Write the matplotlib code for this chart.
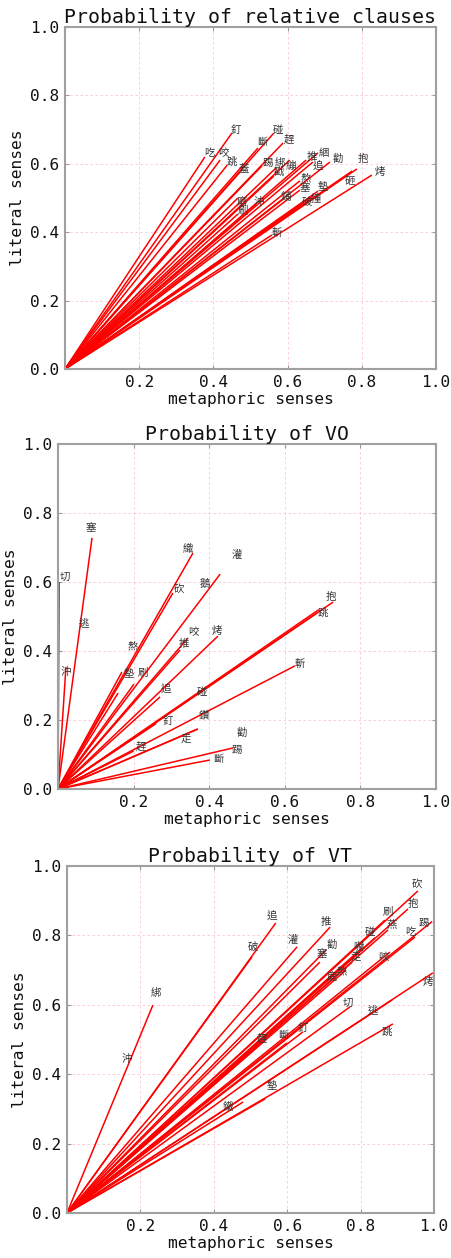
import matplotlib
matplotlib.use("Agg")
import matplotlib.pyplot as plt

# ---------------- data ----------------
# Panel 1: Probability of relative clauses
rc_words = ["釘", "碰", "趕", "斷", "吃", "咬", "跳", "蓋", "踢", "綁", "繃", "戳",
            "推", "勸", "綑", "抱", "追", "烤", "砸", "熬", "塞", "墊", "破", "撞",
            "沖", "鋪", "磨", "刷", "斬"]
rc_meta = [0.450, 0.563, 0.588, 0.520, 0.377, 0.418, 0.437, 0.472, 0.531, 0.569, 0.606, 0.563,
           0.650, 0.714, 0.682, 0.787, 0.668, 0.827, 0.774, 0.633, 0.633, 0.682, 0.639, 0.668,
           0.512, 0.585, 0.466, 0.466, 0.558]
rc_lit = [0.690, 0.690, 0.661, 0.646, 0.620, 0.611, 0.596, 0.576, 0.594, 0.588, 0.611, 0.564,
          0.611, 0.605, 0.632, 0.585, 0.605, 0.567, 0.579, 0.550, 0.523, 0.520, 0.482, 0.506,
          0.480, 0.494, 0.500, 0.453, 0.392]
rc_label_x = [0.461, 0.574, 0.604, 0.531, 0.388, 0.426, 0.450, 0.482, 0.547, 0.580, 0.610, 0.577,
              0.666, 0.736, 0.698, 0.803, 0.682, 0.849, 0.768, 0.650, 0.647, 0.695, 0.652, 0.677,
              0.523, 0.596, 0.477, 0.480, 0.571]
rc_label_y = [0.699, 0.699, 0.670, 0.664, 0.632, 0.632, 0.605, 0.588, 0.602, 0.602, 0.594, 0.576,
              0.620, 0.614, 0.632, 0.614, 0.591, 0.576, 0.553, 0.556, 0.529, 0.532, 0.488, 0.497,
              0.488, 0.503, 0.488, 0.462, 0.398]

# Panel 2: Probability of VO
vo_words = ["塞", "切", "逃", "沖", "織", "灌", "砍", "鵝", "熬", "咬", "推", "烤",
            "墊", "刷", "追", "碰", "釘", "鑽", "走", "趕", "勸", "踢", "斷", "抱",
            "跳", "斬"]
vo_meta = [0.090, 0.003, None, 0.021, 0.357, None, 0.304, 0.429, 0.169, 0.344, 0.323, 0.423,
           0.159, 0.201, 0.270, 0.690, 0.260, 0.370, 0.370, 0.200, None, 0.463, 0.402, 0.728,
           0.685, 0.627]
vo_lit = [0.728, 0.600, None, 0.354, 0.684, None, 0.568, 0.623, 0.339, 0.438, 0.403, 0.443,
          0.278, 0.304, 0.267, 0.520, 0.190, 0.174, 0.174, 0.110, None, 0.119, 0.084, 0.542,
          0.510, 0.357]
vo_label_x = [0.087, 0.019, 0.069, 0.021, 0.344, 0.474, 0.320, 0.389, 0.198, 0.357, 0.333, 0.421,
              0.188, 0.225, 0.286, 0.381, 0.291, 0.386, 0.339, 0.220, 0.487, 0.474, 0.423, 0.722,
              0.701, 0.640]
vo_label_y = [0.757, 0.614, 0.478, 0.339, 0.696, 0.678, 0.580, 0.594, 0.414, 0.455, 0.420, 0.458,
              0.333, 0.336, 0.287, 0.281, 0.197, 0.214, 0.145, 0.122, 0.162, 0.113, 0.087, 0.557,
              0.510, 0.362]

# Panel 3: Probability of VT
vt_words = ["砍", "抱", "踢", "刷", "燕", "吃", "碰", "咬", "推", "追", "破", "灌",
            "勸", "塞", "嚇", "走", "熬", "鹿", "綁", "沖", "切", "逃", "跳", "烤",
            "釘", "趕", "斷", "墊", "鐵"]
vt_meta = [0.956, 0.929, 0.995, 0.866, 0.875, 0.948, 0.839, 0.880, 0.717, 0.569, 0.504, 0.627,
           0.706, 0.689, 0.804, 0.777, 0.760, 0.720, 0.234, None, 0.771, 0.886, 0.888, 0.997,
           0.643, 0.540, 0.599, 0.540, 0.480]
vt_lit = [0.928, 0.876, 0.840, 0.844, 0.816, 0.795, 0.793, 0.752, 0.824, 0.836, 0.738, 0.767,
          0.758, 0.723, 0.764, 0.723, 0.700, 0.680, 0.599, None, 0.594, 0.614, 0.545, 0.692,
          0.522, 0.500, 0.490, 0.329, 0.320]
vt_label_x = [0.954, 0.943, 0.973, 0.875, 0.886, 0.935, 0.826, 0.861, 0.706, 0.559, 0.507, 0.616,
              0.722, 0.695, 0.793, 0.787, 0.749, 0.722, 0.243, 0.163, 0.766, 0.834, 0.872, 0.984,
              0.643, 0.531, 0.589, 0.559, 0.439]
vt_label_y = [0.948, 0.890, 0.836, 0.867, 0.833, 0.810, 0.810, 0.738, 0.839, 0.853, 0.767, 0.787,
              0.772, 0.746, 0.767, 0.738, 0.695, 0.680, 0.634, 0.444, 0.605, 0.582, 0.522, 0.666,
              0.533, 0.504, 0.513, 0.366, 0.305]

titles = ["Probability of relative clauses", "Probability of VO", "Probability of VT"]
x_title = "metaphoric senses"
y_title = "literal senses"
ticks = [0.0, 0.2, 0.4, 0.6, 0.8, 1.0]
tick_labels = ["0.0", "0.2", "0.4", "0.6", "0.8", "1.0"]

# ---------------- drawing ----------------
W, H = 452, 1258
fig = plt.figure(figsize=(W / 100, H / 100), dpi=100)

latin = ["DejaVu Sans Mono"]
cjk = ["Noto Sans CJK TC", "Noto Sans CJK SC", "DejaVu Sans"]

# axes boxes in pixels: left, top, right, bottom
boxes = [(65, 27, 436, 369), (58, 444, 436, 789), (67, 866, 434, 1213)]
panels = [
    (rc_words, rc_meta, rc_lit, rc_label_x, rc_label_y),
    (vo_words, vo_meta, vo_lit, vo_label_x, vo_label_y),
    (vt_words, vt_meta, vt_lit, vt_label_x, vt_label_y),
]

for (l, t, r, b), title, (words, mx, ly, lx, lyy) in zip(boxes, titles, panels):
    ax = fig.add_axes([l / W, 1 - b / H, (r - l) / W, (b - t) / H])
    for xm, yl in zip(mx, ly):
        if xm is None:
            continue
        ax.plot([0, xm], [0, yl], color="#ff0000", lw=1.1, solid_capstyle="butt", zorder=2)
    for w, tx, ty in zip(words, lx, lyy):
        ax.text(tx, ty, w, family=cjk, fontsize=7.5, color="#333333",
                ha="center", va="center", zorder=3)
    ax.set_xlim(0, 1)
    ax.set_ylim(0, 1)
    ax.set_xticks(ticks)
    ax.set_yticks(ticks)
    ax.set_xticklabels([""] + tick_labels[1:], family=latin, fontsize=11.6)
    ax.set_yticklabels(tick_labels, family=latin, fontsize=11.6)
    ax.tick_params(direction="in", length=3, width=0.8, color="#999999",
                   top=True, right=True, pad=4, labelcolor="#111111")
    ax.grid(True, color="#ffb6c1", linestyle=(0, (3, 3)), lw=0.6, alpha=0.8)
    for s in ax.spines.values():
        s.set_color("#a0a0a0")
        s.set_linewidth(1.5)
    ax.set_title(title, family=latin, fontsize=14.3, pad=3, color="#111111")
    ax.set_xlabel(x_title, family=latin, fontsize=11.7, labelpad=2, color="#111111")
    ax.set_ylabel(y_title, family=latin, fontsize=11.7, labelpad=4, color="#111111")

fig.savefig("out.png", dpi=100)
